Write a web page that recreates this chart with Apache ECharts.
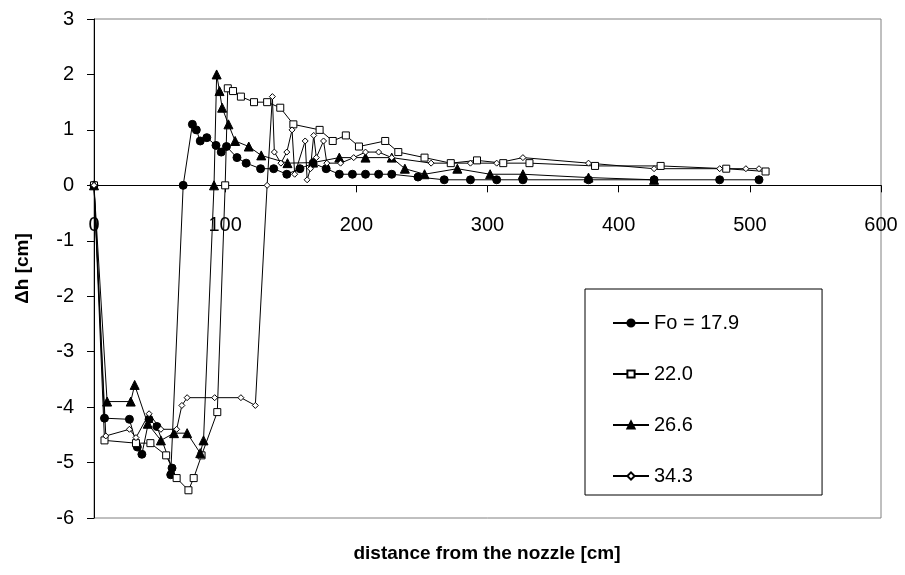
<!DOCTYPE html>
<html>
<head>
<meta charset="utf-8">
<script src="https://cdn.jsdelivr.net/npm/echarts@6/dist/echarts.min.js"></script>
<style>
  html, body { margin: 0; padding: 0; background: #ffffff; }
  #chart { width: 905px; height: 575px; }
</style>
</head>
<body>
<div id="chart"></div>
<script>
// Water-level difference along the channel, one series per Fourier number.
var xTicks = [0, 100, 200, 300, 400, 500, 600];
var yTicks = [-6, -5, -4, -3, -2, -1, 0, 1, 2, 3];

var fo179X = [0, 8, 27, 33, 36.5, 42, 48, 59.5, 58.5, 68, 75, 78, 81, 86, 93, 97, 101, 109, 116, 127, 137, 147, 157, 167, 177, 187, 197, 207, 217, 227, 247, 267, 287, 307, 327, 377, 427, 477, 507];
var fo179Y = [0, -4.2, -4.22, -4.72, -4.85, -4.22, -4.35, -5.1, -5.22, 0, 1.1, 1.0, 0.8, 0.86, 0.72, 0.6, 0.7, 0.5, 0.4, 0.3, 0.3, 0.2, 0.3, 0.4, 0.3, 0.2, 0.2, 0.2, 0.2, 0.2, 0.15, 0.1, 0.1, 0.1, 0.1, 0.1, 0.1, 0.1, 0.1];

var fo220X = [0, 8, 32, 43, 55, 63, 72, 76, 82, 94, 100, 102, 106, 112, 122, 132, 142, 152, 172, 182, 192, 202, 222, 232, 252, 272, 292, 312, 332, 382, 432, 482, 512];
var fo220Y = [0, -4.6, -4.65, -4.65, -4.87, -5.28, -5.5, -5.28, -4.87, -4.09, 0, 1.75, 1.7, 1.6, 1.5, 1.5, 1.4, 1.1, 1.0, 0.8, 0.9, 0.7, 0.8, 0.6, 0.5, 0.4, 0.45, 0.4, 0.4, 0.35, 0.35, 0.3, 0.25];

var fo266X = [0, 10, 28, 31, 41, 51, 61, 71, 81, 83.5, 91.5, 93.5, 95.7, 97.7, 102.5, 107.6, 118, 127.5, 147.5, 167, 187, 207, 227, 237, 252, 277, 302, 327, 377, 427];
var fo266Y = [0, -3.9, -3.9, -3.6, -4.3, -4.6, -4.47, -4.47, -4.83, -4.6, 0, 2.0, 1.7, 1.4, 1.1, 0.8, 0.7, 0.54, 0.4, 0.41, 0.5, 0.5, 0.5, 0.3, 0.2, 0.3, 0.2, 0.2, 0.14, 0.1];

var fo343X = [0, 9, 27, 32, 42, 51, 63, 67, 71, 92, 112, 123, 132, 136, 137.5, 142.5, 147, 151, 153, 161, 162.5, 165, 167.5, 169.5, 175, 177.5, 188, 198, 207, 217, 227, 257, 287, 307, 327, 377, 427, 477, 497, 507];
var fo343Y = [0, -4.52, -4.4, -4.55, -4.12, -4.4, -4.4, -3.97, -3.83, -3.83, -3.83, -3.97, 0, 1.6, 0.6, 0.4, 0.6, 1.0, 0.2, 0.8, 0.1, 0.3, 0.9, 0.5, 0.8, 0.4, 0.4, 0.5, 0.6, 0.6, 0.5, 0.4, 0.4, 0.4, 0.5, 0.4, 0.3, 0.3, 0.3, 0.3];

var seriesNames = ['Fo = 17.9', '22.0', '26.6', '34.3'];

function pairs(xs, ys) {
  return xs.map(function (x, i) { return [x, ys[i]]; });
}

var FONT = '"Liberation Sans", Arial, sans-serif';

// plot box in pixels
var GRID = { left: 94, right: 24, top: 19, bottom: 57 };
var plotH = 575 - GRID.top - GRID.bottom;
var yMin = yTicks[0], yMax = yTicks[yTicks.length - 1];
// lift the x axis from the bottom edge up to the level y = 0
var zeroLift = -plotH * (0 - yMin) / (yMax - yMin);

function lineSeries(name, xs, ys, symbol, size, filled) {
  return {
    name: name,
    type: 'line',
    data: pairs(xs, ys),
    symbol: symbol,
    symbolSize: size,
    showAllSymbol: true,
    animation: false,
    lineStyle: { color: '#000', width: 1 },
    itemStyle: { color: filled ? '#000' : '#fff', borderColor: '#000', borderWidth: 1 },
    emphasis: { disabled: true }
  };
}

var chart = echarts.init(document.getElementById('chart'), null, { renderer: 'canvas' });

chart.setOption({
  backgroundColor: '#fff',
  animation: false,
  textStyle: { fontFamily: FONT },
  grid: {
    left: GRID.left, right: GRID.right, top: GRID.top, bottom: GRID.bottom,
    show: true, borderColor: '#808080', borderWidth: 1, backgroundColor: '#fff'
  },
  xAxis: {
    type: 'value',
    min: xTicks[0], max: xTicks[xTicks.length - 1], interval: 100,
    offset: zeroLift,
    axisLine: { onZero: false, lineStyle: { color: '#000', width: 1 } },
    axisTick: { show: true, length: 7, lineStyle: { color: '#000' } },
    axisLabel: { color: '#000', fontSize: 20, fontFamily: FONT, margin: 30 },
    splitLine: { show: false }
  },
  yAxis: {
    type: 'value',
    min: yMin, max: yMax, interval: 1,
    name: 'Δh [cm]',
    nameLocation: 'middle',
    nameGap: 62,
    nameRotate: 90,
    nameTextStyle: { color: '#000', fontSize: 19, fontWeight: 'bold', fontFamily: FONT },
    axisLine: { onZero: false, lineStyle: { color: '#000', width: 1 } },
    axisTick: { show: true, length: 7, lineStyle: { color: '#000' } },
    axisLabel: { color: '#000', fontSize: 20, fontFamily: FONT, margin: 20 },
    splitLine: { show: false }
  },
  legend: {
    orient: 'vertical',
    left: 585, top: 289,
    padding: [24, 83, 9, 27],
    itemWidth: 36, itemHeight: 9, itemGap: 31,
    backgroundColor: '#fff',
    borderColor: '#000', borderWidth: 1,
    textStyle: { color: '#000', fontSize: 20, fontFamily: FONT },
    data: seriesNames
  },
  graphic: [{
    type: 'text',
    x: 487,
    y: 554,
    style: {
      text: 'distance from the nozzle [cm]',
      fill: '#000',
      font: 'bold 19px ' + FONT,
      textAlign: 'center',
      textVerticalAlign: 'middle'
    }
  }],
  series: [
    lineSeries(seriesNames[0], fo179X, fo179Y, 'circle', 8, true),
    lineSeries(seriesNames[1], fo220X, fo220Y, 'rect', 7, false),
    lineSeries(seriesNames[2], fo266X, fo266Y, 'triangle', 9, true),
    lineSeries(seriesNames[3], fo343X, fo343Y, 'diamond', 6, false)
  ]
});
</script>
</body>
</html>
